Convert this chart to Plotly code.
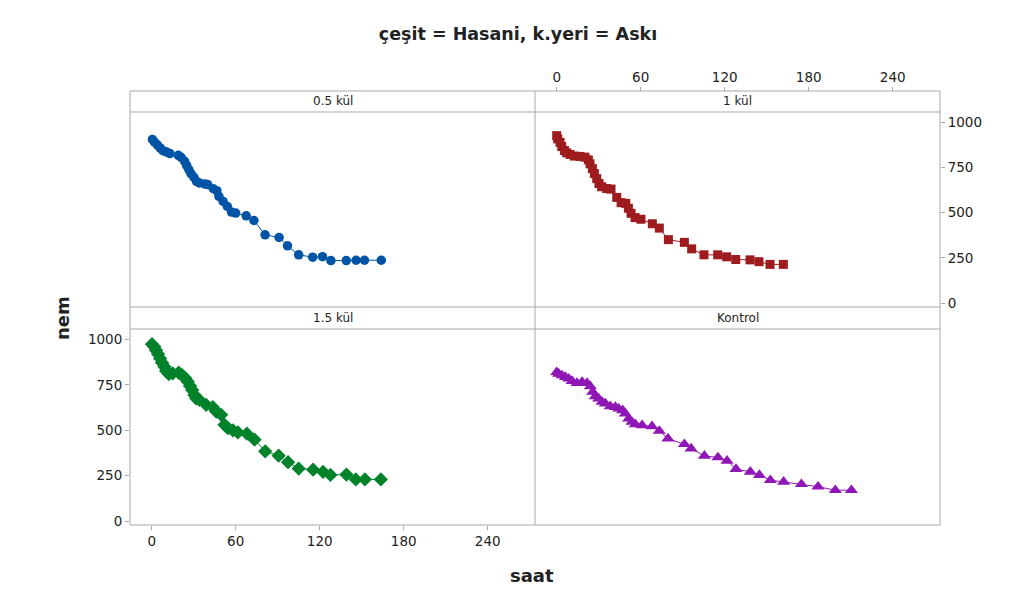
import plotly.graph_objects as go

# ---- data ----
x_05 = [0.5, 2, 4, 6, 8, 10.5, 13, 19, 21, 23.5, 25, 26.5, 28, 30, 32, 34, 38, 40, 44, 46.5, 48, 51, 54, 57, 60, 67.5, 73, 81, 91, 97, 105, 115, 122, 128, 139, 146, 152, 164]
y_05 = [906, 891, 876, 859, 844, 837, 828, 818, 807, 785, 761, 739, 717, 698, 674, 665, 659, 656, 633, 622, 591, 563, 535, 504, 498, 483, 457, 378, 363, 317, 267, 254, 257, 235, 235, 237, 237, 237]

x_1 = [0, 0.7, 2.4, 3.6, 5.5, 7.1, 9.5, 12.6, 16.7, 20.2, 22.6, 23.8, 25.5, 26.9, 28.6, 30.2, 32.1, 35.7, 38.8, 42.9, 46, 49.3, 51.2, 53.1, 56, 60.2, 68.3, 73.3, 79.8, 91.2, 96.4, 105.2, 115, 121.4, 127.9, 138.1, 144.5, 152.4, 161.9]
y_1 = [927, 909, 890, 867, 845, 832, 823, 814, 812, 808, 793, 771, 744, 717, 689, 662, 644, 634, 631, 585, 556, 552, 525, 497, 473, 464, 439, 415, 351, 336, 300, 267, 267, 256, 241, 239, 229, 214, 214]

x_15 = [0.2, 1.9, 3.1, 4.5, 6, 7.4, 9.1, 10.3, 12.2, 15, 19.3, 21.7, 24.1, 25.8, 27.4, 28.9, 30.5, 31.7, 34.1, 38.9, 43.7, 46.1, 49.6, 52, 54.4, 58, 61.6, 68, 73.5, 81.1, 90.7, 97.4, 105, 115.3, 122.4, 127.7, 139.1, 145.8, 152.3, 163.7]
y_15 = [974, 960, 941, 920, 896, 872, 850, 826, 810, 814, 817, 804, 786, 768, 744, 722, 695, 676, 667, 640, 627, 603, 585, 530, 512, 499, 488, 481, 448, 384, 360, 324, 289, 283, 271, 254, 256, 229, 229, 229]

x_k = [0, 1.4, 3.8, 6.2, 8.6, 11, 14.5, 18.1, 21.7, 24, 25.7, 27.6, 30, 32.4, 34.8, 38.3, 41.9, 44.3, 47.1, 49, 51.4, 53.8, 56.2, 61, 68.1, 73.3, 79.5, 91.2, 96, 105.5, 115.2, 121.7, 128.1, 138.3, 144.8, 152.6, 162.1, 174.8, 186.7, 199, 210.5]
y_k = [820, 811, 802, 793, 784, 771, 760, 766, 760, 742, 711, 687, 674, 656, 647, 632, 628, 619, 610, 592, 564, 546, 533, 527, 522, 496, 454, 423, 399, 359, 350, 332, 286, 271, 253, 225, 216, 203, 189, 170, 170]

panels = ["0.5 kül", "1 kül", "1.5 kül", "Kontrol"]
x_ticks = [0, 60, 120, 180, 240]
y_ticks = [0, 250, 500, 750, 1000]

title_text = "çeşit = Hasani, k.yeri = Askı"
x_title = "saat"
y_title = "nem"

# ---- layout geometry (image pixel coords; page body adds 8px margin) ----
OFF = 8
W, H = 1028 - 2 * OFF, 607 - 2 * OFF
L, R, T, B = 130 - OFF, 940 - OFF, 91 - OFF, 525 - OFF
pw, ph = R - L, B - T

def px(x):
    return (x - OFF - L) / pw

def py(y):
    return (B - (y - OFF)) / ph

XR = [-15.5, 273.8]
YR = [-22, 1058]
GRAY = "#a8a8a8"
FONT = "DejaVu Sans"
TXT = "#222222"

fig = go.Figure()

specs = [
    # (x, y, color, symbol, size, xaxis, yaxis)
    (x_05, y_05, "#0054A6", "circle", 9.5, "x2", "y2"),
    (x_1, y_1, "#9E1B1E", "square", 9, "x3", "y3"),
    (x_15, y_15, "#00822B", "diamond", 11, "x", "y"),
    (x_k, y_k, "#8F17B6", "triangle-up", 11.5, "x4", "y4"),
]
for xs, ys, col, sym, sz, xa, ya in specs:
    fig.add_trace(go.Scatter(
        x=xs, y=ys, mode="lines+markers", xaxis=xa, yaxis=ya,
        line=dict(color=col, width=1),
        marker=dict(color=col, symbol=sym, size=sz, line=dict(width=0)),
        showlegend=False, hoverinfo="x+y"))

c_mid = px(535)
top_plot = [py(307), py(112)]
bot_plot = [py(525), py(329)]

tickfont = dict(family=FONT, size=13.5, color=TXT)
base_x = dict(range=XR, showgrid=False, zeroline=False, showline=False, tickvals=x_ticks)
base_y = dict(range=YR, showgrid=False, zeroline=False, showline=False, tickvals=y_ticks)

fig.update_layout(
    xaxis=dict(**base_x, domain=[0, c_mid], anchor="y", ticks="outside", ticklen=4,
               tickcolor=GRAY, tickfont=tickfont),
    yaxis=dict(**base_y, domain=bot_plot, anchor="x", ticks="outside", ticklen=4,
               tickcolor=GRAY, tickfont=tickfont),
    xaxis2=dict(**base_x, domain=[0, c_mid], anchor="y2", showticklabels=False),
    yaxis2=dict(**base_y, domain=top_plot, anchor="x2", showticklabels=False),
    xaxis3=dict(**base_x, domain=[c_mid, 1], anchor="free", position=1.0, side="top",
                ticks="outside", ticklen=4, tickcolor=GRAY, tickfont=tickfont),
    yaxis3=dict(**base_y, domain=top_plot, anchor="x3", side="right", ticks="outside",
                ticklen=4, tickcolor=GRAY, tickfont=tickfont),
    xaxis4=dict(**base_x, domain=[c_mid, 1], anchor="y4", showticklabels=False),
    yaxis4=dict(**base_y, domain=bot_plot, anchor="x4", showticklabels=False),
)

# borders / strips
shapes = []
line = dict(color=GRAY, width=1)
shapes.append(dict(type="rect", xref="paper", yref="paper", x0=0, x1=1, y0=0, y1=1, line=line))
shapes.append(dict(type="line", xref="paper", yref="paper", x0=c_mid, x1=c_mid, y0=0, y1=1, line=line))
for yy in (112, 307, 329):
    shapes.append(dict(type="line", xref="paper", yref="paper", x0=0, x1=1, y0=py(yy), y1=py(yy), line=line))

annotations = []
strip_y = [py(101.5), py(101.5), py(318), py(318)]
strip_x = [c_mid / 2, (c_mid + 1) / 2, c_mid / 2, (c_mid + 1) / 2]
for name, sx, sy in zip(panels, strip_x, strip_y):
    annotations.append(dict(text=name, x=sx, y=sy, xref="paper", yref="paper",
                            showarrow=False, xanchor="center", yanchor="middle",
                            font=dict(family=FONT, size=12, color=TXT)))

annotations.append(dict(text=x_title, x=px(532), y=py(575), xref="paper", yref="paper",
                        showarrow=False, xanchor="center", yanchor="middle",
                        font=dict(family=FONT, size=18, color=TXT, weight="bold")))
annotations.append(dict(text=y_title, x=px(62), y=py(318), xref="paper", yref="paper",
                        showarrow=False, xanchor="center", yanchor="middle", textangle=-90,
                        font=dict(family=FONT, size=18, color=TXT, weight="bold")))

fig.update_layout(
    width=W, height=H,
    margin=dict(l=L, r=W - R, t=T, b=H - B),
    paper_bgcolor="white", plot_bgcolor="white",
    shapes=shapes, annotations=annotations,
    title=dict(text=title_text, x=(518 - OFF) / W, xanchor="center",
               y=1 - (34 - OFF) / H, yanchor="middle", yref="container",
               font=dict(family=FONT, size=17.5, color=TXT, weight="bold")),
)

fig.write_html("out.html")
